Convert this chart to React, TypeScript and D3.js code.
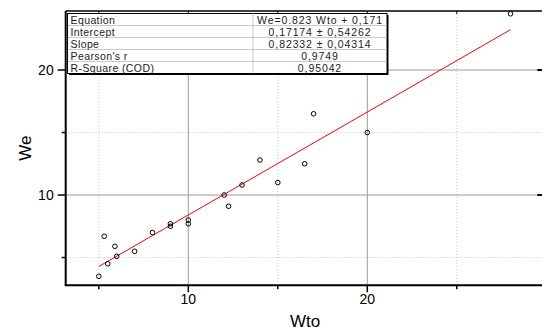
import * as d3 from "d3";

const wto = [5, 5.3, 5.5, 5.9, 6, 7, 8, 9, 9, 10, 10, 12, 12.25, 13, 14, 15, 16.5, 17, 20, 28];
const we = [3.5, 6.7, 4.5, 5.9, 5.1, 5.5, 7.0, 7.7, 7.5, 8.0, 7.7, 10.0, 9.1, 10.8, 12.8, 11.0, 12.5, 16.5, 15.0, 24.5];

const fitSlope = 0.82332;
const fitIntercept = 0.17174;

const statLabels = ["Equation", "Intercept", "Slope", "Pearson's r", "R-Square (COD)"];
const statValues = ["We=0.823 Wto + 0,171", "0,17174 ± 0,54262", "0,82332 ± 0,04314", "0,9749", "0,95042"];

const xMajor = [10, 20];
const xMinor = [5, 15, 25];
const yMajor = [10, 20];
const yMinor = [5, 15];

const W = 542;
const H = 330;
const left = 65.7;
const right = 546.3;
const top = 11;
const bottom = 285.3;
const font = "'Liberation Sans', Arial, sans-serif";

export default function App() {
  const x = d3.scaleLinear().domain([3.15, 30]).range([left, right]);
  const y = d3.scaleLinear().domain([2.78, 24.72]).range([bottom, top]);

  const x0 = d3.min(wto) as number;
  const x1 = d3.max(wto) as number;
  const fit = d3
    .line<number>()
    .x((d) => x(d))
    .y((d) => y(fitIntercept + fitSlope * d));

  const tblLeft = 67.5;
  const tblTop = 13.5;
  const tblRight = 387;
  const colDiv = 253;
  const rowH = 12;

  return (
    <svg width={W} height={H} style={{ position: "absolute", left: 0, top: 0, background: "#fff" }}>
      {/* minor grid */}
      {xMinor.map((v) => (
        <line key={"xm" + v} x1={x(v)} x2={x(v)} y1={top} y2={bottom} stroke="#c8c8c8" strokeDasharray="1,2" />
      ))}
      {yMinor.map((v) => (
        <line key={"ym" + v} x1={left} x2={W} y1={y(v)} y2={y(v)} stroke="#c8c8c8" strokeDasharray="1,2" />
      ))}
      {/* major grid */}
      {xMajor.map((v) => (
        <line key={"xM" + v} x1={x(v)} x2={x(v)} y1={top} y2={bottom} stroke="#9a9a9a" strokeWidth={1} />
      ))}
      {yMajor.map((v) => (
        <line key={"yM" + v} x1={left} x2={W} y1={y(v)} y2={y(v)} stroke="#9a9a9a" strokeWidth={1} />
      ))}

      {/* fit line */}
      <path d={fit([x0, x1]) as string} stroke="#ff0000" strokeWidth={1} fill="none" />

      {/* points */}
      {wto.map((v, i) => (
        <circle key={i} cx={x(v)} cy={y(we[i])} r={2.3} fill="none" stroke="#000" strokeWidth={1} />
      ))}

      {/* frame */}
      <line x1={left} x2={W} y1={top} y2={top} stroke="#000" strokeWidth={1.5} />
      <line x1={left} x2={left} y1={top} y2={bottom} stroke="#000" strokeWidth={2} />
      <line x1={left - 1} x2={W} y1={bottom} y2={bottom} stroke="#000" strokeWidth={2} />

      {/* bottom ticks */}
      {xMajor.map((v) => (
        <line key={"bt" + v} x1={x(v)} x2={x(v)} y1={bottom} y2={bottom + 7} stroke="#000" strokeWidth={1.5} />
      ))}
      {xMinor.map((v) => (
        <line key={"btm" + v} x1={x(v)} x2={x(v)} y1={bottom} y2={bottom + 4} stroke="#000" strokeWidth={1.5} />
      ))}
      {/* top ticks */}
      {[...xMajor, ...xMinor].map((v) => (
        <line key={"tt" + v} x1={x(v)} x2={x(v)} y1={top} y2={top + 3} stroke="#000" strokeWidth={1} />
      ))}
      {/* left ticks */}
      {yMajor.map((v) => (
        <line key={"lt" + v} x1={left - 8} x2={left} y1={y(v)} y2={y(v)} stroke="#000" strokeWidth={1.5} />
      ))}
      {yMinor.map((v) => (
        <line key={"ltm" + v} x1={left - 4} x2={left} y1={y(v)} y2={y(v)} stroke="#000" strokeWidth={1.5} />
      ))}
      {/* right ticks */}
      {yMajor.map((v) => (
        <line key={"rt" + v} x1={right - 9} x2={W} y1={y(v)} y2={y(v)} stroke="#000" strokeWidth={2} />
      ))}

      {/* tick labels */}
      {xMajor.map((v) => (
        <text key={"xl" + v} x={x(v)} y={bottom + 19} textAnchor="middle" fontFamily={font} fontSize={14} fill="#000">
          {v}
        </text>
      ))}
      {yMajor.map((v) => (
        <text key={"yl" + v} x={left - 12} y={y(v) + 5} textAnchor="end" fontFamily={font} fontSize={14} fill="#000">
          {v}
        </text>
      ))}

      {/* axis titles */}
      <text x={305} y={326.5} textAnchor="middle" fontFamily={font} fontSize={17} fill="#000">
        Wto
      </text>
      <text
        transform={`translate(31,${(top + bottom) / 2}) rotate(-90)`}
        textAnchor="middle"
        fontFamily={font}
        fontSize={17}
        fill="#000"
      >
        We
      </text>

      {/* stats table */}
      <g>
        <rect
          x={tblLeft + 1.5}
          y={tblTop + 1.5}
          width={tblRight - tblLeft}
          height={rowH * statLabels.length}
          fill="#000"
        />
        <rect
          x={tblLeft}
          y={tblTop}
          width={tblRight - tblLeft}
          height={rowH * statLabels.length}
          fill="#fff"
          stroke="#000"
          strokeWidth={1}
        />
        {statLabels.slice(1).map((_, i) => (
          <line
            key={"rl" + i}
            x1={tblLeft + 0.5}
            x2={tblRight - 0.5}
            y1={tblTop + rowH * (i + 1)}
            y2={tblTop + rowH * (i + 1)}
            stroke="#c8c8c8"
          />
        ))}
        <line x1={colDiv} x2={colDiv} y1={tblTop} y2={tblTop + rowH * statLabels.length} stroke="#c8c8c8" />
        {statLabels.map((s, i) => (
          <text
            key={"sl" + i}
            x={tblLeft + 3}
            y={tblTop + rowH * i + 10}
            fontFamily={font}
            fontSize={10.5}
            letterSpacing={0.4}
            fill="#222"
          >
            {s}
          </text>
        ))}
        {statValues.map((s, i) => (
          <text
            key={"sv" + i}
            x={(colDiv + tblRight) / 2}
            y={tblTop + rowH * i + 10}
            textAnchor="middle"
            fontFamily={font}
            fontSize={10.5}
            letterSpacing={0.9}
            fill="#222"
          >
            {s}
          </text>
        ))}
      </g>
    </svg>
  );
}
